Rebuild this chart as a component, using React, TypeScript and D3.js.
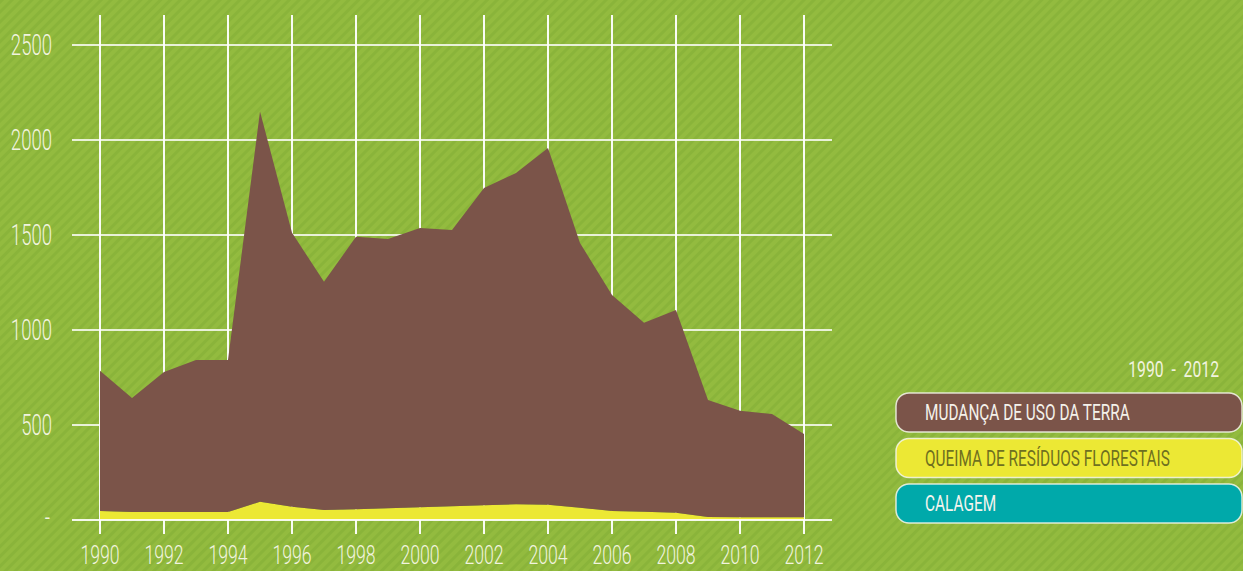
import React from 'react';
import * as d3 from 'd3';

const years = d3.range(1990, 2013);
const mudanca = [739, 600, 737, 800, 800, 2054, 1442, 1201, 1435, 1417, 1470, 1454, 1670, 1743, 1878, 1393, 1137, 995, 1067, 616, 560, 544, 439];
const queima = [47, 42, 42, 42, 42, 96, 70, 53, 56, 62, 67, 72, 77, 83, 80, 65, 47, 43, 38, 16, 15, 14, 14];
const calagem = [0, 0, 0, 0, 0, 0, 0, 0, 0, 0, 0, 0, 0, 0, 0, 0, 0, 0, 0, 0, 0, 0, 0];
const yTicks = [500, 1000, 1500, 2000, 2500];
const xTicks = d3.range(1990, 2013, 2);
const legendItems = [
  { key: 'mudanca', label: 'MUDANÇA DE USO DA TERRA', color: '#7b5449', text: '#f4f1ea' },
  { key: 'queima', label: 'QUEIMA DE RESÍDUOS FLORESTAIS', color: '#ece834', text: '#6f7020' },
  { key: 'calagem', label: 'CALAGEM', color: '#00a9aa', text: '#f4f4ee' },
];
const period = '1990  -  2012';

const W = 1243;
const H = 571;
const FONT = 'Roboto, "Liberation Sans", sans-serif';
const LABEL = '#f1f3df';

function CondText({ x, y, sx, size, anchor = 'start', fill = LABEL, weight = 300, children }: any) {
  return (
    <text
      transform={`translate(${x},${y}) scale(${sx},1)`}
      textAnchor={anchor}
      fontFamily={FONT}
      fontSize={size}
      fontWeight={weight}
      fill={fill}
      style={{ whiteSpace: 'pre' }}
    >
      {children}
    </text>
  );
}

export default function App() {
  const x = d3.scaleLinear().domain([1990, 2012]).range([100, 804]);
  const y = d3.scaleLinear().domain([0, 2500]).range([520, 45]);

  const rows = years.map((yr, i) => ({ year: yr, calagem: calagem[i], queima: queima[i], mudanca: mudanca[i] }));
  const series = d3.stack<any>().keys(['calagem', 'queima', 'mudanca'])(rows);
  const area = d3.area<any>()
    .x(d => x(d.data.year))
    .y0(d => y(d[0]))
    .y1(d => y(d[1]));
  const colorOf: any = { mudanca: '#7b5449', queima: '#ece834', calagem: '#00a9aa' };

  return (
    <svg width={W} height={H} style={{ position: 'absolute', left: 0, top: 0 }}>
      <defs>
        <pattern id="stripes" width="7" height="7" patternUnits="userSpaceOnUse" patternTransform="rotate(45)">
          <rect width="7" height="7" fill="#93bb3f" />
          <rect width="3" height="7" fill="#8ab43a" />
        </pattern>
      </defs>
      <rect width={W} height={H} fill="url(#stripes)" />

      {/* grid, drawn under the areas */}
      {xTicks.map(yr => (
        <line key={yr} x1={x(yr)} x2={x(yr)} y1={15} y2={534}
          stroke="#ffffff" strokeOpacity={0.95} strokeWidth={2} />
      ))}
      {yTicks.map(t => (
        <line key={t} x1={72} x2={832} y1={y(t)} y2={y(t)} stroke="#ffffff" strokeOpacity={0.8} strokeWidth={2} />
      ))}

      {series.map(s => (
        <path key={s.key} d={area(s) || ''} fill={colorOf[s.key]} />
      ))}

      <line x1={72} x2={832} y1={y(0)} y2={y(0)} stroke="#ffffff" strokeOpacity={0.9} strokeWidth={2} />

      {/* y labels */}
      {yTicks.map(t => (
        <CondText key={t} x={52} y={y(t) + 10} sx={0.64} size={29} anchor="end">{t}</CondText>
      ))}
      <CondText x={50} y={y(0) + 8} sx={0.64} size={29} anchor="end">-</CondText>

      {/* x labels */}
      {xTicks.map(t => (
        <CondText key={t} x={x(t)} y={564} sx={0.68} size={26} anchor="middle">{t}</CondText>
      ))}

      {/* legend */}
      <CondText x={1219} y={377} sx={0.7} size={22.5} anchor="end" weight={400}>{period}</CondText>
      {legendItems.map((it, i) => (
        <g key={it.key}>
          <rect x={896} y={393 + i * 45.5} width={346} height={39} rx={13}
            fill={it.color} stroke="#f4f6ea" strokeOpacity={0.85} strokeWidth={1.5} />
          <CondText x={925} y={393 + i * 45.5 + 27} sx={0.7} size={22} fill={it.text} weight={400}>{it.label}</CondText>
        </g>
      ))}
    </svg>
  );
}
